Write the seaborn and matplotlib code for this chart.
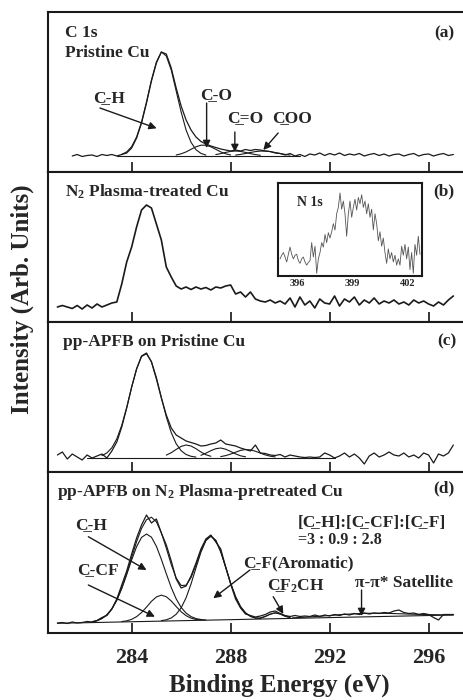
import numpy as np
import matplotlib
matplotlib.use("Agg")
import matplotlib.pyplot as plt
import seaborn as sns

# ---- data (heights, arbitrary units) ----
STEP = 0.2
start_a = 281.6
start_bcd = 281.0

spec_a = [16, 17.5, 15.5, 16.5, 17, 15.5, 17.5, 16.5, 17.5, 16,
          17.5, 19, 24, 34, 49, 69, 91, 109, 120, 118,
          104, 84, 66, 52, 42, 35, 30.5, 28, 26, 24.5,
          23, 22, 21, 22, 21, 22.5, 21.5, 22.5, 22, 21,
          20.5, 19, 18.5, 17, 18.5, 16, 17.5, 15.5, 18, 17,
          19, 16.5, 18.5, 17, 19, 16.5, 18, 17, 18.5, 16,
          17.5, 18.5, 16.5, 18, 16, 17.5, 18, 16, 17.5, 18.5,
          16, 17.5, 18, 16, 17.5, 18.5, 16.5, 17.5]

spec_b = [15, 16.5, 15, 13.5, 16.5, 13, 17, 14, 18, 15,
          17, 19, 20, 38, 60, 75, 95, 112, 117, 114,
          98, 82, 55, 45, 36, 33, 35, 32.5, 35, 33,
          34.5, 32, 35, 34, 36, 37, 28, 30, 25, 30,
          23, 21, 20, 22, 19, 21, 18, 24, 15, 25,
          17, 21, 14, 23, 19, 18, 26, 16, 23, 20,
          25, 17, 22, 19, 24, 18, 21, 19, 22, 18,
          20, 17, 22, 19, 21, 18, 16, 20, 17, 22,
          26]

spec_c = [17, 20, 13, 18, 15, 12, 17, 14, 16, 18,
          14, 21, 30, 45, 64, 85, 103, 116, 119, 110,
          93, 74, 57, 44, 37, 34, 31, 29.5, 28, 26,
          26.5, 28, 29, 32, 28, 27, 26, 24, 22.5, 21,
          27, 19, 18.5, 17, 16.5, 17.5, 15, 17, 16, 15,
          14.5, 15, 14.5, 15, 19, 17, 14, 16, 19, 15,
          18, 14, 8, 16, 19, 15, 17, 20, 17, 16,
          19, 15, 17, 14, 19, 17, 9, 18, 16, 19,
          27]

spec_d = [10, 10.5, 9.5, 11, 10, 10.5, 11.5, 11, 12.5, 15.5,
          17.5, 24, 34, 48, 62, 79, 95, 108, 118, 110,
          114, 100, 88, 72, 54, 45, 47, 57, 70, 84,
          94, 98, 91, 84, 66, 49, 34, 25, 19, 17.5,
          16, 17, 18.5, 21, 22, 19.5, 17.5, 16.5, 17.5, 16.5,
          17, 16.5, 18, 16.5, 18, 17, 18.5, 17.5, 19, 18,
          19.5, 18.5, 20, 19, 20, 19.5, 20.5, 20, 22, 23,
          20.5, 19.5, 20, 18.5, 19.5, 18.5, 15.5, 13, 18.5, 18.5,
          18.5]

# fitted components: (first energy, values on the 0.2 eV grid)
fits_a = [
    (283.6, [17.6, 20.1, 25.4, 35, 50, 70, 92, 110, 120, 116, 102, 81, 60, 42,
             29.7, 22.3, 18.6, 16.9]),                                # C-H
    (285.8, [17, 18.2, 20.1, 22.7, 25.2, 26.8, 26.8, 25.2, 22.7, 20.1, 18.2, 17]),  # C-O
    (287.4, [17.4, 18.4, 19.6, 20.6, 21, 20.6, 19.6, 18.4, 17.4, 16.7]),          # C=O
    (288.2, [16.9, 17.6, 18.5, 19.5, 20.4, 20.9, 20.9, 20.4, 19.5, 18.5, 17.6, 16.9]),  # COO
]
base_a_energy = [283.4, 290.8]
base_a = [16, 16]

fits_c = [
    (282.8, [16.4, 19.1, 24.2, 33.1, 46.7, 64.5, 84.7, 103.2, 115.5, 118.2, 110.4,
             94.5, 74.5, 55.2, 39.4, 28.2, 21.3, 17.5, 15.7, 14.9]),
    (285.4, [16.9, 19.3, 22.6, 25.6, 27, 26, 23.3, 20, 17.3, 15.7]),
    (286.8, [16.7, 18.8, 21.3, 23.3, 24, 22.8, 20.5, 18.1, 16.2, 15.2]),
    (287.6, [15.4, 16.4, 17.9, 19.8, 21.6, 22.5, 22.1, 20.8, 18.9, 17.1, 15.8, 15.1]),
]
base_c_energy = [282.2, 292.2]
base_c = [14.5, 14.5]

fits_d = [
    (282.4, [11.2, 12.3, 14.5, 18.2, 24.1, 32.8, 44.4, 58.4, 73.1, 86.3, 95.6, 99.0,
             95.8, 86.7, 73.7, 59.3, 45.5, 34.1, 25.6, 19.9, 16.4, 14.4, 13.5, 13.0]),  # C-H
    (283.6, [11.45, 12.15, 13.65, 16.35, 20.45, 25.85, 31.65, 36.05, 37.85, 36.25,
             32.05, 26.45, 21.25, 17.35, 14.85, 13.55, 13.05]),                      # C-CF
    (285.2, [12.35, 13.2, 15.05, 18.75, 25.15, 35.25, 49.05, 65.15, 80.85, 92.45,
             96.85, 92.65, 81.25, 65.75, 49.85, 36.25, 26.35, 20.15, 16.65, 15.0, 14.35]),  # C-F
    (289.2, [14.65, 16.45, 18.85, 20.15, 19.05, 16.85, 15.25]),                     # CF2CH
    (282.4, [11.2, 12.3, 14.5, 18.2, 24.1, 32.8, 45.1, 59.4, 75.5, 91.3, 104.6, 113.3,
             115.8, 111.2, 100.2, 84.9, 68.5, 55.0, 47.5, 47.8, 55.4, 68.0, 82.1, 92.7,
             96.85, 92.65, 81.25, 65.75, 49.85, 36.25, 26.35, 20.15, 16.65, 15.0, 15.15,
             16.65, 18.85, 20.15, 19.05, 16.85, 15.65]),                            # envelope
]
sat_energy = [290.5, 291.0, 291.5, 292.0, 292.5, 293.0, 293.5, 294.0, 294.5, 295.0,
              295.5, 296.0, 296.5, 297.0]
sat_d = [15.1, 15.8, 16.6, 17.5, 18.5, 19.2, 19.7, 19.8, 19.5, 19.1, 18.7, 18.4, 18.2, 18.25]
base_d_energy = [281.0, 297.0]
base_d = [9.7, 18.0]

# N 1s inset
n1s_first, n1s_last = 395.08, 402.65
n1s = [16, 20, 23, 18, 12.5, 21, 29, 21, 16, 20, 21, 14, 11, 16, 18, 12.5, 9, 12, 14, 34,
       18, 30, 0, 16, 23, 34, 29, 43, 34, 45, 39, 46, 55, 48, 66, 73, 89, 71, 80, 66,
       41, 66, 80, 62, 73, 82, 70, 84, 77, 87, 73, 80, 66, 77, 62, 71, 48, 66, 55, 36,
       46, 30, 39, 23, 11, 27, 16, 23, 12.5, 20, 9, 16, 9, 30, 20, 32, 16, 29, 4, 23,
       0, 32, 20, 41, 21]

xticks = [284, 288, 292, 296]
inset_ticks = [396, 399, 402]
panel_heights = [160, 150, 150, 161]

FS = 12.5  # panel text size


def grid(first, n, step=STEP):
    return np.round(first + step * np.arange(n), 2)


def trace(ax, x, y, lw=0.9, color="k"):
    sns.lineplot(x=x, y=y, ax=ax, color=color, linewidth=lw,
                 estimator=None, sort=False, legend=False)


def arrow(ax, tail, head):
    ax.annotate("", xy=head, xytext=tail,
                arrowprops=dict(arrowstyle="-|>", color="k", lw=1.0,
                                mutation_scale=11, shrinkA=0, shrinkB=0))


sns.set_theme(style="white")
plt.rcParams["font.family"] = ["Liberation Serif", "DejaVu Serif"]
plt.rcParams["font.weight"] = "bold"
plt.rcParams["axes.labelweight"] = "bold"
plt.rcParams["mathtext.fontset"] = "custom"
plt.rcParams["mathtext.rm"] = "Liberation Serif:bold"
plt.rcParams["mathtext.it"] = "Liberation Serif:bold"
plt.rcParams["mathtext.bf"] = "Liberation Serif:bold"

fig = plt.figure(figsize=(4.64, 7.0), dpi=100)
gs = fig.add_gridspec(4, 1, height_ratios=panel_heights, left=48 / 464, right=1.0,
                      top=1 - 12 / 700, bottom=1 - 633 / 700, hspace=0)
axes = [fig.add_subplot(gs[i]) for i in range(4)]

for i, ax in enumerate(axes):
    ax.set_xlim(280.62, 297.43)
    ax.set_ylim(0, panel_heights[i])
    ax.set_xticks(xticks)
    ax.set_yticks([])
    ax.set_xlabel("")
    ax.set_ylabel("")
    ax.tick_params(axis="x", direction="in", length=7, width=1.3, bottom=True,
                   top=False, labelbottom=(i == 3), labelsize=16, pad=10.5)
    for side in ["left", "top", "bottom"]:
        ax.spines[side].set_linewidth(1.5)
        ax.spines[side].set_color("k")
    ax.spines["right"].set_visible(False)

E_a = grid(start_a, len(spec_a))
E_bcd = grid(start_bcd, len(spec_b))

# (a)
ax = axes[0]
trace(ax, E_a, spec_a, lw=0.9)
for first, vals in fits_a:
    trace(ax, grid(first, len(vals)), vals, lw=0.8)
trace(ax, base_a_energy, base_a, lw=0.8)
ax.text(0.041, 0.869, "C 1s", transform=ax.transAxes, fontsize=FS, va="center")
ax.text(0.041, 0.744, "Pristine Cu", transform=ax.transAxes, fontsize=FS, va="center")
ax.text(0.978, 0.869, "(a)", transform=ax.transAxes, fontsize=FS, va="center", ha="right")
ax.text(282.44, 74, "C\u0332-H", fontsize=FS, va="center")
arrow(ax, (282.72, 64), (285.01, 43.7))
ax.text(286.76, 77, "C\u0332-O", fontsize=FS, va="center")
arrow(ax, (287.03, 69), (287.03, 24))
ax.text(287.84, 54, "C\u0332=O", fontsize=FS, va="center")
arrow(ax, (288.17, 40), (288.17, 20))
ax.text(289.66, 54, "C\u0332OO", fontsize=FS, va="center")
arrow(ax, (289.92, 39), (289.32, 22))

# (b)
ax = axes[1]
trace(ax, E_bcd, spec_b, lw=1.2)
ax.text(0.041, 0.869, "N$_2$ Plasma-treated Cu", transform=ax.transAxes, fontsize=FS, va="center")
ax.text(0.978, 0.869, "(b)", transform=ax.transAxes, fontsize=FS, va="center", ha="right")

# (c)
ax = axes[2]
trace(ax, E_bcd, spec_c, lw=0.9)
for first, vals in fits_c:
    trace(ax, grid(first, len(vals)), vals, lw=0.8)
trace(ax, base_c_energy, base_c, lw=0.8)
ax.text(0.037, 0.869, "pp-APFB on Pristine Cu", transform=ax.transAxes, fontsize=FS, va="center")
ax.text(0.982, 0.869, "(c)", transform=ax.transAxes, fontsize=FS, va="center", ha="right")

# (d)
ax = axes[3]
trace(ax, E_bcd, spec_d, lw=0.9)
for first, vals in fits_d:
    trace(ax, grid(first, len(vals)), vals, lw=0.8)
trace(ax, sat_energy, sat_d, lw=0.8)
trace(ax, base_d_energy, base_d, lw=0.8)
ax.text(0.021, 0.878, "pp-APFB on N$_2$ Plasma-pretreated Cu", transform=ax.transAxes,
        fontsize=FS, va="center")
ax.text(0.978, 0.90, "(d)", transform=ax.transAxes, fontsize=FS, va="center", ha="right")
ax.text(290.73, 109.7, "[C\u0332-H]:[C\u0332-CF]:[C\u0332-F]", fontsize=FS, va="center")
ax.text(290.73, 93, "=3 : 0.9 : 2.8", fontsize=11.5, va="center")
ax.text(281.71, 108, "C\u0332-H", fontsize=FS, va="center")
arrow(ax, (282.25, 96.3), (284.6, 63))
ax.text(281.78, 63, "C\u0332-CF", fontsize=FS, va="center")
arrow(ax, (282.25, 48), (284.94, 16.3))
ax.text(288.51, 69.7, "C\u0332-F(Aromatic)", fontsize=FS, va="center")
arrow(ax, (288.78, 63), (287.3, 34.7))
ax.text(289.45, 47, "C\u0332F$_2$CH", fontsize=FS, va="center")
arrow(ax, (289.72, 36.3), (290.13, 19))
ax.text(293.02, 50.3, "\u03c0-\u03c0* Satellite", fontsize=FS, va="center")
arrow(ax, (293.29, 43), (293.29, 17))
ax.set_xlabel("Binding Energy (eV)", fontsize=18)
ax.xaxis.set_label_coords(0.557, -0.25)

fig.text(0.048, 1 - 299 / 700, "Intensity (Arb. Units)", rotation=90, ha="center",
         va="center", fontsize=18, fontweight="bold")

# inset of panel (b)
ins = fig.add_axes([278 / 464, 1 - 276 / 700, 144 / 464, 93 / 700])
n_energy = np.linspace(n1s_first, n1s_last, len(n1s))
trace(ins, n_energy, n1s, lw=0.6, color="#555555")
ins.set_xlim(394.97, 402.76)
ins.set_ylim(-3, 100)
ins.set_xticks(inset_ticks)
ins.set_yticks([])
ins.set_xlabel("")
ins.set_ylabel("")
ins.tick_params(axis="x", length=0, labelsize=7.5, pad=2)
for s in ins.spines.values():
    s.set_linewidth(1.5)
    s.set_color("k")
ins.text(0.13, 0.785, "N 1s", transform=ins.transAxes, fontsize=10, va="center")

fig.savefig("out.png", dpi=100)
